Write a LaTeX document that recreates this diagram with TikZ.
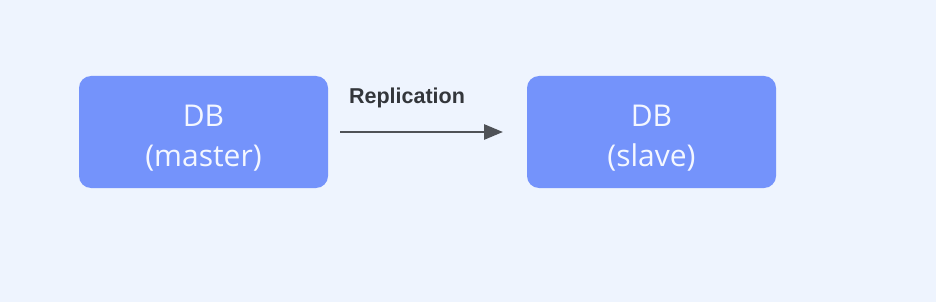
\documentclass[tikz,border=0pt]{standalone}
\usepackage{fontspec}
\setmainfont{Open Sans}
\newfontfamily\labelfont{Liberation Sans}
\usetikzlibrary{arrows.meta}
\definecolor{bgc}{HTML}{EEF4FE}
\definecolor{boxc}{HTML}{7493FB}
\definecolor{boxtext}{HTML}{F4F7FF}
\definecolor{arrc}{HTML}{4F5257}
\definecolor{labc}{HTML}{33363B}
\tikzset{
  dbbox/.style={fill=boxc, draw=none, rounded corners=12pt, minimum width=249pt, minimum height=112pt,
    text=boxtext, align=center, font=\fontsize{30}{40}\selectfont, inner sep=0pt},
  repl/.style={draw=arrc, line width=2.8pt, -{Triangle[length=19pt,width=15pt]}},
}
\begin{document}
\begin{tikzpicture}[x=1pt,y=-1pt]
\fill[bgc] (0,0) rectangle (936,302);
\useasboundingbox (0,0) rectangle (936,302);
\node[dbbox] (master) at (203.5,132) {\rule{0pt}{33pt}DB\\(master)};
\node[dbbox] (slave) at (651.5,132) {\rule{0pt}{33pt}DB\\(slave)};
\coordinate (a) at (340,132);
\coordinate (b) at (503,132);
\draw[repl] (a) -- (b);
\node[text=labc, font=\labelfont\bfseries\fontsize{21.5}{24}\selectfont, anchor=base] (lbl) at (407,103) {Replication};
\end{tikzpicture}
\end{document}
